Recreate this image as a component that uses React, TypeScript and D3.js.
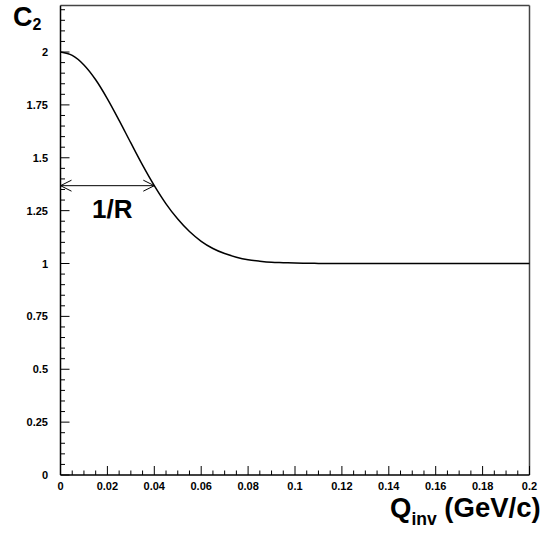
import React from "react";
import * as d3 from "d3";

const qValues = [0, 0.005, 0.01, 0.015, 0.02, 0.025, 0.03, 0.035, 0.04, 0.045, 0.05, 0.055, 0.06, 0.065, 0.07, 0.075, 0.08, 0.085, 0.09, 0.095, 0.1, 0.11, 0.12, 0.14, 0.16, 0.18, 0.2];
const c2Values = [2.0, 1.984, 1.939, 1.869, 1.779, 1.677, 1.57, 1.465, 1.368, 1.282, 1.21, 1.151, 1.105, 1.071, 1.047, 1.03, 1.018, 1.011, 1.006, 1.004, 1.002, 1.0005, 1.0, 1.0, 1.0, 1.0, 1.0];

const xTicks = [0, 0.02, 0.04, 0.06, 0.08, 0.1, 0.12, 0.14, 0.16, 0.18, 0.2];
const xTickLabels = ["0", "0.02", "0.04", "0.06", "0.08", "0.1", "0.12", "0.14", "0.16", "0.18", "0.2"];
const yTicks = [0, 0.25, 0.5, 0.75, 1, 1.25, 1.5, 1.75, 2];
const yTickLabels = ["0", "0.25", "0.5", "0.75", "1", "1.25", "1.5", "1.75", "2"];

const arrowQ = [0, 0.04];
const arrowC2 = 1.368;

const W = 545;
const H = 533;
const left = 60.5;
const right = 529.5;
const top = 5.5;
const bottom = 475;

export default function App() {
  const x = d3.scaleLinear().domain([0, 0.2]).range([left, right]);
  const y = d3.scaleLinear().domain([0, 2.22]).range([bottom, top]);

  const pts: [number, number][] = qValues.map((q, i) => [q, c2Values[i]]);
  const line = d3
    .line<[number, number]>()
    .x((d) => x(d[0]))
    .y((d) => y(d[1]))
    .curve(d3.curveMonotoneX);

  const xMinor = d3.range(0, 0.2001, 0.005);
  const yMinor = d3.range(0, 2.2201, 0.05);

  const ax0 = x(arrowQ[0]);
  const ax1 = x(arrowQ[1]);
  const ay = y(arrowC2);

  const font = "'Liberation Sans', Arial, Helvetica, sans-serif";

  return (
    <svg
      width={W}
      height={H}
      style={{ position: "absolute", left: 0, top: 0, background: "#fff" }}
      fontFamily={font}
    >
      <rect x={0} y={0} width={W} height={H} fill="#fff" />
      {/* frame */}
      <line x1={left} y1={top} x2={right} y2={top} stroke="#444" strokeWidth={1.5} />
      <line x1={right} y1={top} x2={right} y2={bottom} stroke="#444" strokeWidth={1.5} />
      {/* axes */}
      <line x1={left} y1={bottom} x2={right} y2={bottom} stroke="#000" strokeWidth={1.5} />
      <line x1={left} y1={top} x2={left} y2={bottom} stroke="#000" strokeWidth={1.5} />
      {/* x ticks */}
      {xMinor.map((v, i) => {
        const major = i % 4 === 0;
        return (
          <line
            key={"xm" + i}
            x1={x(v)}
            x2={x(v)}
            y1={bottom}
            y2={bottom - (major ? 9 : 4.5)}
            stroke="#000"
            strokeWidth={1}
          />
        );
      })}
      {yMinor.map((v, i) => {
        const major = i % 5 === 0;
        return (
          <line
            key={"ym" + i}
            x1={left}
            x2={left + (major ? 9 : 4.5)}
            y1={y(v)}
            y2={y(v)}
            stroke="#000"
            strokeWidth={1}
          />
        );
      })}
      {xTicks.map((v, i) => (
        <text
          key={"xl" + i}
          x={x(v)}
          y={490}
          textAnchor="middle"
          fontSize={11}
          fontWeight="bold"
        >
          {xTickLabels[i]}
        </text>
      ))}
      {yTicks.map((v, i) => (
        <text
          key={"yl" + i}
          x={48}
          y={y(v) + 4}
          textAnchor="end"
          fontSize={11}
          fontWeight="bold"
        >
          {yTickLabels[i]}
        </text>
      ))}
      {/* curve */}
      <path d={line(pts) || ""} fill="none" stroke="#000" strokeWidth={1.5} />
      {/* arrow */}
      <line x1={ax0} x2={ax1} y1={ay} y2={ay} stroke="#000" strokeWidth={1} />
      <path
        d={`M${ax0 + 11},${ay - 5.5}L${ax0},${ay}L${ax0 + 11},${ay + 5.5}`}
        fill="none"
        stroke="#000"
        strokeWidth={1}
      />
      <path
        d={`M${ax1 - 11},${ay - 5.5}L${ax1},${ay}L${ax1 - 11},${ay + 5.5}`}
        fill="none"
        stroke="#000"
        strokeWidth={1}
      />
      <text x={92} y={218} fontSize={26} fontWeight="bold">
        1/R
      </text>
      {/* y title */}
      <text x={13} y={26} fontSize={27} fontWeight="bold">
        C
        <tspan fontSize={16} dy={3.5}>
          2
        </tspan>
      </text>
      {/* x title */}
      <text x={390} y={517} fontSize={27.5} fontWeight="bold">
        Q
        <tspan fontSize={17.5} dy={8}>
          inv
        </tspan>
        <tspan fontSize={27.5} dy={-8}>
          {" (GeV/c)"}
        </tspan>
      </text>
    </svg>
  );
}
